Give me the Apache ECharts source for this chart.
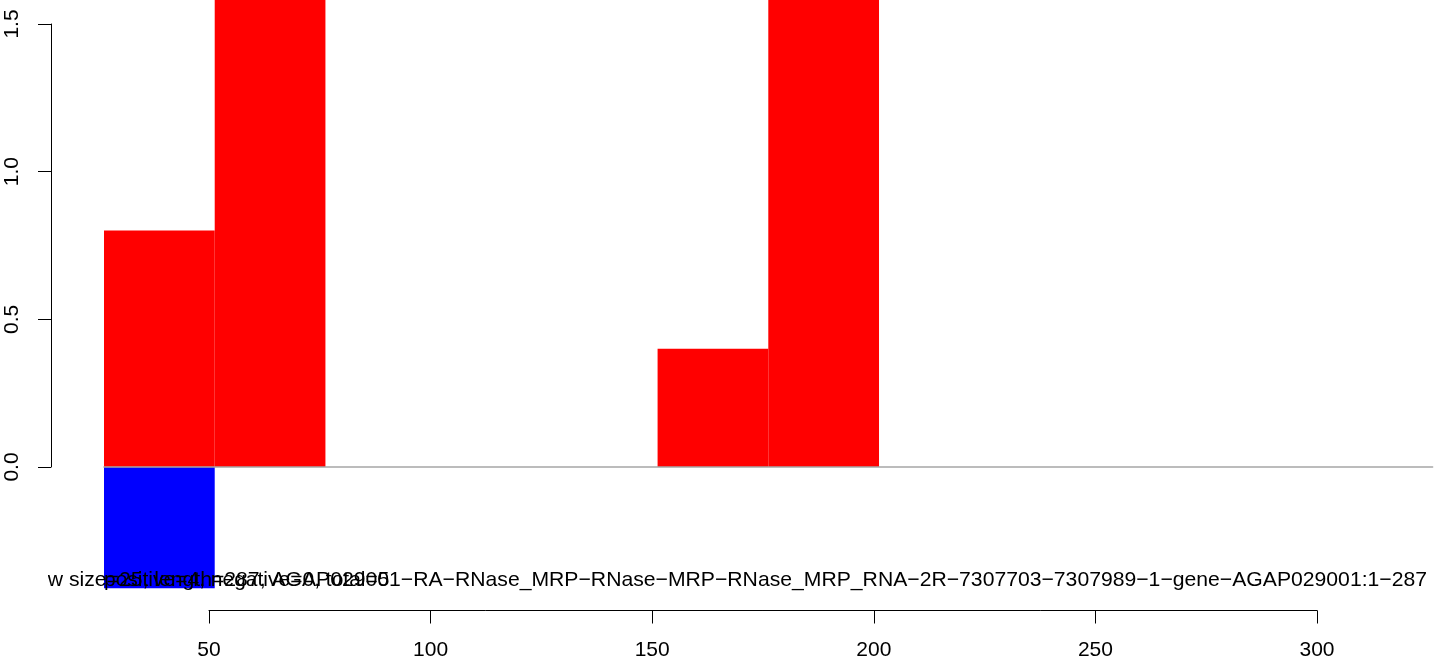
<!DOCTYPE html>
<html>
<head>
<meta charset="utf-8">
<script src="https://cdn.jsdelivr.net/npm/echarts@6/dist/echarts.min.js"></script>
<style>html,body{margin:0;padding:0;background:#fff;}#c{width:1444px;height:662px;}</style>
</head>
<body>
<div id="c"></div>
<script>
// ---- data ----
var binStart = [26, 51, 76, 101, 126, 151, 176, 201, 226, 251, 276, 301];
var binWidth = 25;
var positiveValues = [0.8, 1.6, 0, 0, 0, 0.4, 1.6, 0, 0, 0, 0, 0];
var negativeValues = [-0.41, 0, 0, 0, 0, 0, 0, 0, 0, 0, 0, 0];
var xTicks = [50, 100, 150, 200, 250, 300];
var yTicks = [0.0, 0.5, 1.0, 1.5];
var titleText = 'window size=25, length=287, AGAP029001\u2212RA\u2212RNase_MRP\u2212RNase\u2212MRP\u2212RNase_MRP_RNA\u22122R\u22127307703\u22127307989\u22121\u2212gene\u2212AGAP029001:1\u2212287';
var countText = 'positive=4, negative=0, total=5';

var FONT = 'Liberation Sans, Arial, Helvetica, sans-serif';

function rectItem(params, api) {
  var s = api.value(0), e = api.value(1), v = api.value(2);
  var p0 = api.coord([s, 0]);
  var p1 = api.coord([e, v]);
  return {
    type: 'rect',
    shape: { x: p0[0], y: Math.min(p0[1], p1[1]), width: p1[0] - p0[0], height: Math.abs(p1[1] - p0[1]) },
    style: { fill: api.visual('color') }
  };
}

var posData = binStart.map(function (s, i) { return [s, s + binWidth, positiveValues[i]]; });
var negData = binStart.map(function (s, i) { return [s, s + binWidth, negativeValues[i]]; });

var chart = echarts.init(document.getElementById('c'), null, { renderer: 'canvas' });
chart.setOption({
  animation: false,
  backgroundColor: '#ffffff',
  grid: [
    { left: 104, width: 1328.6, top: 0, height: 600, containLabel: false },
    { left: 51, width: 1, top: 24, height: 443, containLabel: false },
    { left: 209, width: 1108, top: 609.5, height: 1, containLabel: false }
  ],
  xAxis: [
    { gridIndex: 0, type: 'value', min: 26, max: 326,
      axisLine: { show: true, onZero: true, lineStyle: { color: '#a6a6a6', width: 1.5 } },
      axisTick: { show: false }, axisLabel: { show: false }, splitLine: { show: false }, z: 5 },
    { gridIndex: 1, type: 'value', show: false },
    { gridIndex: 2, type: 'value', min: xTicks[0], max: xTicks[xTicks.length - 1], interval: 50,
      position: 'bottom', axisLine: { show: true, onZero: false, lineStyle: { color: '#000', width: 1 } },
      axisTick: { show: true, inside: false, length: 13, lineStyle: { color: '#000', width: 1 } },
      axisLabel: { show: true, color: '#000', fontSize: 21, fontFamily: FONT, margin: 29 },
      splitLine: { show: false } }
  ],
  yAxis: [
    { gridIndex: 0, type: 'value', min: -0.45, max: 1.58, show: false, splitLine: { show: false } },
    { gridIndex: 1, type: 'value', min: yTicks[0], max: yTicks[yTicks.length - 1], interval: 0.5,
      position: 'left',
      axisLine: { show: true, onZero: false, lineStyle: { color: '#000', width: 1 } },
      axisTick: { show: true, inside: false, length: 13, lineStyle: { color: '#000', width: 1 } },
      axisLabel: { show: true, color: '#000', fontSize: 21, fontFamily: FONT, rotate: 90, margin: 28,
        formatter: function (v) { return v.toFixed(1); } },
      splitLine: { show: false } },
    { gridIndex: 2, type: 'value', show: false }
  ],
  series: [
    { type: 'custom', name: 'positive', xAxisIndex: 0, yAxisIndex: 0, renderItem: rectItem,
      itemStyle: { color: '#ff0000' }, data: posData, z: 2 },
    { type: 'custom', name: 'negative', xAxisIndex: 0, yAxisIndex: 0, renderItem: rectItem,
      itemStyle: { color: '#0000ff' }, data: negData, z: 2 }
  ],
  graphic: [
    { type: 'text', x: 1427, y: 580, scaleX: 1.008, z: 10,
      style: { text: titleText, fill: '#000', font: '21px ' + FONT, align: 'right', verticalAlign: 'middle' } },
    { type: 'text', x: 104, y: 580, z: 10,
      style: { text: countText, fill: '#000', font: '21px ' + FONT, align: 'left', verticalAlign: 'middle' } },
    { type: 'rect', z: 11, shape: { x: 0, y: 562, width: 48, height: 34 }, style: { fill: '#ffffff' } }
  ]
});
</script>
</body>
</html>
